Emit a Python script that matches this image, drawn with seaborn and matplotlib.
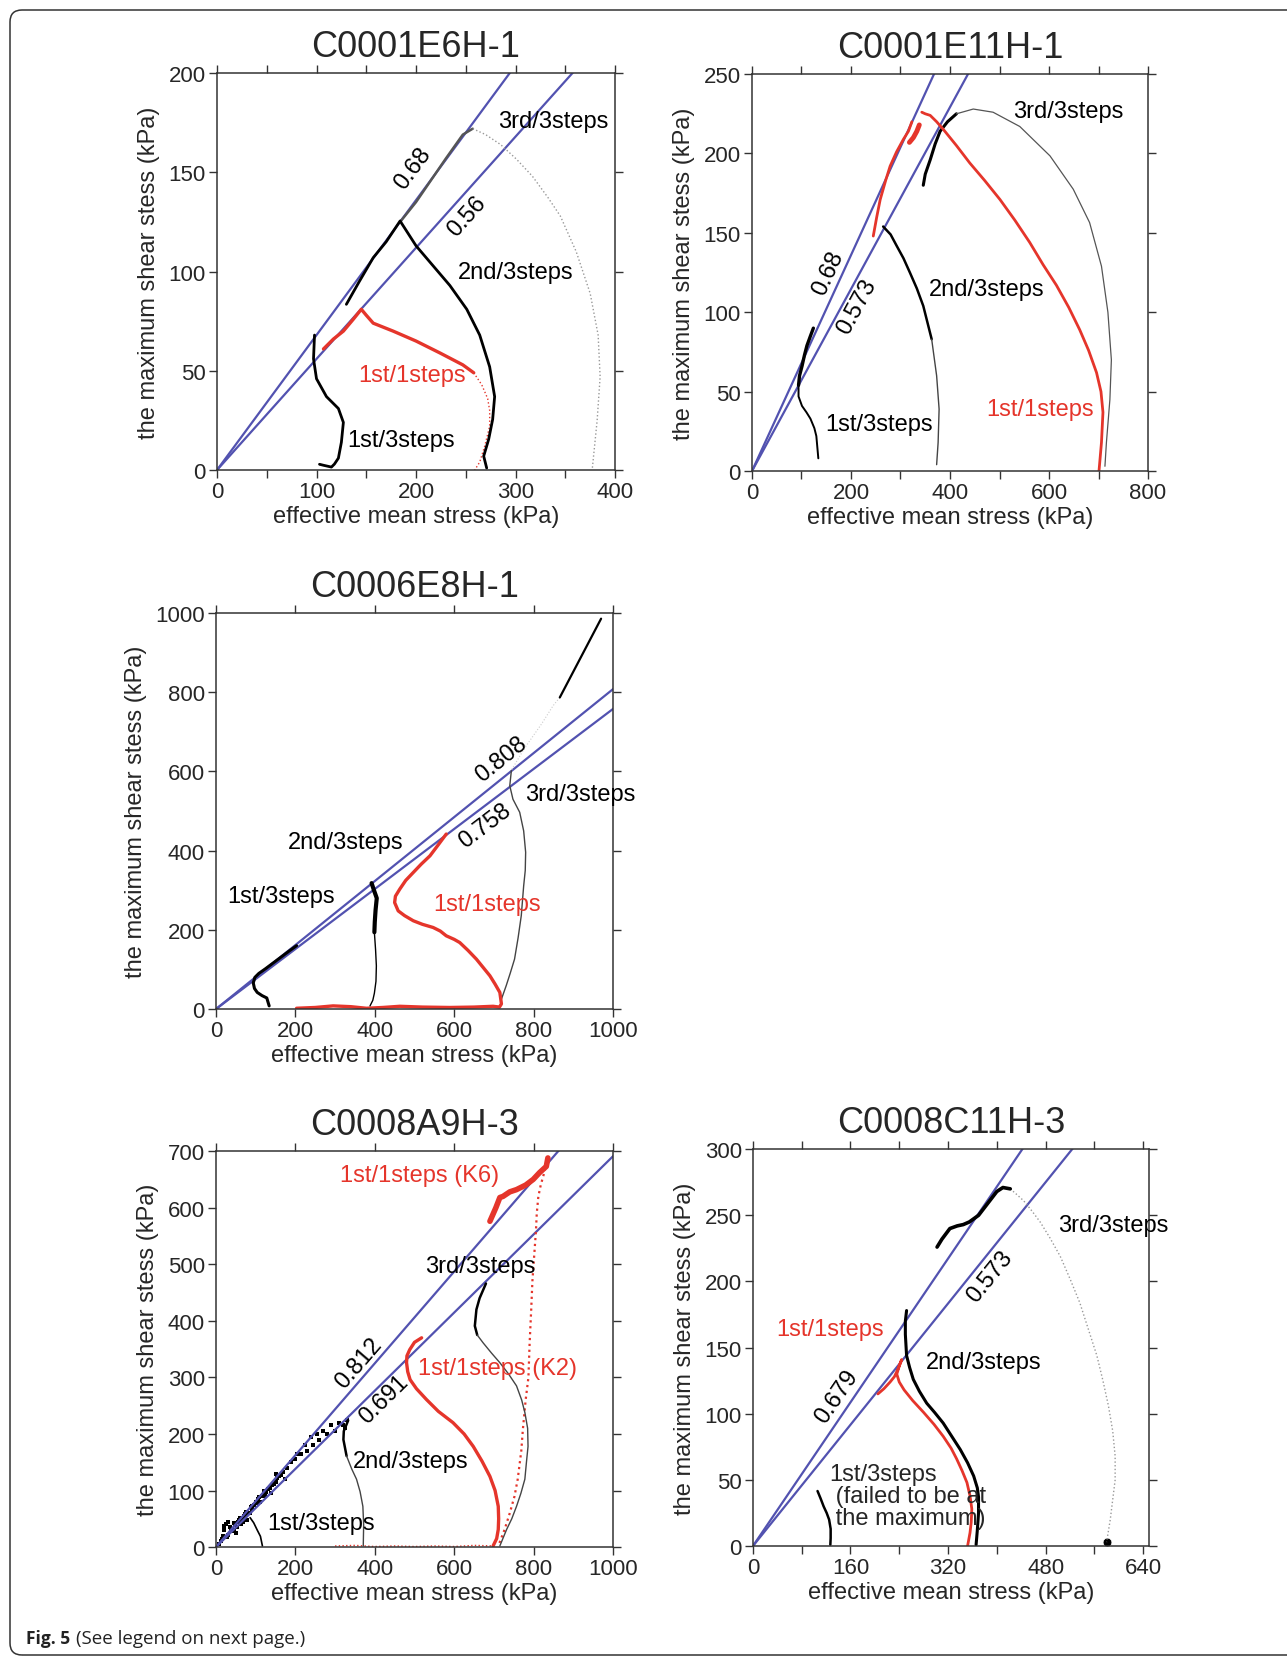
import matplotlib

matplotlib.use("Agg")
import matplotlib.patches as mpatches
import matplotlib.pyplot as plt
import seaborn as sns
from matplotlib.ticker import MultipleLocator

BLUE = "#5252b0"
RED = "#e5352b"

# ---------------- C0001E6H-1 ----------------
e6_slopes = [0.68, 0.56]
e6_1st3_x = [98, 97, 100, 110, 122, 127, 125, 122, 118, 115, 107, 103]
e6_1st3_y = [68, 56, 46, 37, 31, 24, 14, 6, 3, 1.5, 2.4, 2.9]
e6_2nd3_x = [130, 143, 157, 170, 184, 200, 217, 234, 251, 264, 274, 279, 277, 273, 268, 271]
e6_2nd3_y = [83.5, 95, 107, 115, 125.5, 113, 103, 93, 81, 68, 52, 37, 25.5, 15.5, 7, 1]
e6_3rd3_x = [184, 200, 215, 230, 247, 257, 270, 285, 301, 317, 333, 345, 361, 375, 383, 385, 382, 377]
e6_3rd3_y = [125, 135, 146, 157, 169, 172, 169, 164, 156.6, 148, 137, 128, 110, 89, 68, 47, 25, 0]
e6_1st1_x = [107, 117, 127, 137, 145, 150, 157, 177, 200, 224, 247, 258]
e6_1st1_y = [61, 66, 70, 76, 81, 78, 74, 70, 65, 59, 53, 49]
e6_1st1_tail_x = [258, 266, 272, 274, 274, 269, 264, 259]
e6_1st1_tail_y = [49, 43, 36, 30, 22, 12, 4, 0]

# ---------------- C0001E11H-1 ----------------
e11_slopes = [0.68, 0.573]
e11_1st3_x = [124, 118, 111, 106, 101, 96, 94, 94, 101, 110, 118, 126, 130, 134]
e11_1st3_y = [90, 85, 79, 73, 66, 60, 54, 47, 41, 37, 33, 27, 22, 8]
e11_2nd3_x = [265, 280, 292, 306, 319, 333, 346, 363, 373, 378, 376, 373]
e11_2nd3_y = [154, 149, 142, 134, 125, 115, 104, 83, 60, 39, 18, 4]
e11_3rd3_x = [346, 350, 360, 370, 380, 395, 413, 447, 487, 541, 602, 649, 682, 706, 719, 726, 723, 716, 713]
e11_3rd3_y = [180, 187, 196, 206, 214, 220, 225, 228, 226, 217, 198.5, 177.5, 156.5, 129, 100, 70, 45, 18, 3]
e11_1st1_rise_x = [245, 252, 259, 270, 279, 292, 306, 316, 323]
e11_1st1_rise_y = [148, 160, 171, 183, 192, 201, 209, 214, 220]
e11_1st1_blob_x = [318, 326, 333, 338]
e11_1st1_blob_y = [207, 210, 214, 218]
e11_1st1_x = [343, 350, 360, 373, 387, 413, 440, 470, 501, 531, 561, 588, 615, 640, 662, 680, 696, 705, 709, 706, 701]
e11_1st1_y = [226, 225, 224, 220, 215, 205, 194, 183, 171, 158, 144, 130, 117, 103, 89, 76, 62, 50, 37, 18, 0]

# ---------------- C0006E8H-1 ----------------
e8_slopes = [0.808, 0.758]
e8_1st3_x = [203, 185, 165, 145, 125, 108, 98, 94, 97, 104, 116, 128, 134]
e8_1st3_y = [160, 147, 132, 117, 102, 90, 80, 66, 52, 42, 34, 28, 8]
e8_2nd3_x = [392, 398, 405, 402, 400, 399]
e8_2nd3_y = [318, 300, 280, 250, 220, 194]
e8_2nd3_tail_x = [399, 402, 404, 403, 399, 395, 388]
e8_2nd3_tail_y = [194, 150, 109, 70, 40, 22, 8]
e8_3rd3_x = [744, 740, 748, 765, 775, 780, 779, 775, 769, 761, 752, 741, 731, 719]
e8_3rd3_y = [602, 564, 530, 497, 450, 396, 350, 311, 236, 180, 126, 90, 59, 25]
e8_3rd3_gap_x = [745, 778, 820, 849, 866]
e8_3rd3_gap_y = [605, 660, 720, 766, 787]
e8_3rd3_top_x = [866, 970]
e8_3rd3_top_y = [787, 986]
e8_1st1_x = [580, 560, 539, 517, 497, 478, 463, 452, 450, 459, 475, 497, 520, 547, 565, 580, 600,
             614, 635, 656, 673, 690, 703, 715, 719, 714, 698, 650, 589, 520, 463, 420, 379, 340,
             295, 250, 203]
e8_1st1_y = [442, 415, 387, 366, 345, 325, 303, 285, 269, 248, 236, 223, 214, 206, 197, 185, 176,
             168, 148, 126, 105, 84, 63, 42, 13, 5, 7, 5, 4, 5, 7, 4, 2, 6, 8, 4, 2]

# ---------------- C0008A9H-3 ----------------
a9_slopes = [0.812, 0.691]
a9_cloud_x = [8, 15, 20, 25, 30, 35, 40, 48, 55, 60, 70, 75, 85, 90, 100, 105, 115, 120, 130, 140,
              150, 160, 170, 180, 190, 200, 215, 230, 245, 260, 280, 300, 320, 330, 30, 20, 50, 110,
              150, 240, 12, 18, 28, 38, 45, 52, 58, 65, 72, 80, 88, 95, 102, 108, 118, 125, 135,
              145, 155, 165, 62, 78, 92, 124, 138, 175, 205, 225, 255, 270, 290, 310, 325, 45, 68]
a9_cloud_y = [5, 15, 30, 40, 22, 35, 28, 40, 45, 52, 55, 62, 60, 72, 78, 85, 90, 100, 102, 110,
              115, 125, 132, 140, 150, 155, 165, 170, 180, 190, 200, 205, 215, 225, 45, 38, 25, 80,
              130, 195, 10, 20, 18, 30, 42, 36, 48, 50, 58, 60, 70, 74, 80, 88, 92, 98, 105,
              112, 122, 128, 40, 48, 68, 90, 95, 120, 165, 180, 200, 205, 215, 220, 210, 30, 45]
a9_1st3_x = [86, 95, 104, 112, 117]
a9_1st3_y = [52, 43, 30, 19, 2]
a9_2nd3_x = [333, 322, 321, 329, 342, 354, 363, 370, 372, 371]
a9_2nd3_y = [224, 205, 190, 161, 138, 120, 98, 72, 40, 2]
a9_3rd3_x = [680, 664, 656, 652, 658, 673, 694, 715, 737, 757, 770, 778, 785, 786, 782, 778, 768,
             757, 745, 732, 715]
a9_3rd3_y = [466, 440, 420, 391, 375, 361, 343, 326, 306, 285, 260, 238, 210, 178, 150, 120, 95,
             72, 50, 31, 2]
a9_k2_x = [518, 500, 488, 481, 480, 483, 489, 505, 530, 560, 597, 625, 648, 670, 690, 703, 711,
           712, 711, 707, 698]
a9_k2_y = [370, 362, 349, 338, 326, 310, 296, 280, 261, 240, 220, 200, 178, 152, 125, 100, 72, 50,
           31, 15, 2]
a9_k6_x = [690, 705, 715, 723, 740, 757, 780, 799, 815, 832, 836]
a9_k6_y = [576, 600, 618, 620, 628, 632, 640, 650, 662, 673, 688]
a9_k6_tail_x = [832, 826, 818, 812, 808, 806, 803, 800, 797, 794, 790, 787, 780, 773, 769, 760,
                752, 740, 727, 711]
a9_k6_tail_y = [680, 660, 640, 620, 590, 560, 530, 500, 470, 420, 360, 300, 260, 208, 170, 120,
                90, 60, 31, 2]
a9_base_x = [300, 350, 400, 450, 500, 550, 600, 650, 700]
a9_base_y = [2, 3, 1, 2, 1, 2, 1, 3, 2]

# ---------------- C0008C11H-3 ----------------
c11_slopes = [0.679, 0.573]
c11_1st3_x = [106, 111, 116, 121, 125, 127.5, 127.5, 127]
c11_1st3_y = [41.6, 36, 30, 25, 20, 13, 6, 1]
c11_1st1_x = [205, 215, 225, 232, 238, 244, 240, 236, 240, 248, 262, 280, 297, 312, 325, 334, 343,
              351, 356, 359, 358, 356, 352]
c11_1st1_y = [115, 119, 124, 128, 134, 141, 136, 130, 124, 118, 110, 101, 92, 83, 74, 66, 57, 48,
              38, 28, 18, 10, 0]
c11_2nd3_x = [252, 250, 250, 252, 257, 263, 273, 285, 298, 312, 326, 340, 352, 362, 368, 370, 370,
              368, 366]
c11_2nd3_y = [178, 170, 160, 144, 135, 126, 117, 108, 101, 93, 83, 73, 63, 53, 44, 37, 25, 12, 1]
c11_3rd3_x = [302, 310, 323, 335, 345, 355, 370, 380, 390, 400, 410, 422]
c11_3rd3_y = [226, 232, 240, 242, 243, 245, 250, 256, 262, 268, 271, 270]
c11_3rd3_tail_x = [422, 432, 444, 458, 471, 487, 504, 520, 536, 550, 564, 574, 583, 590, 594, 594,
                   590, 586, 580]
c11_3rd3_tail_y = [270, 266, 261, 253, 245, 233, 219, 202, 184, 164, 144, 125, 106, 87, 68, 50,
                   35, 20, 3]


def trace(ax, x, y, color="black", lw=1.2, ls="-"):
    sns.lineplot(x=x, y=y, ax=ax, sort=False, estimator=None, color=color,
                 linewidth=lw, linestyle=ls, legend=False)


def ratio_lines(ax, slopes, xmax):
    for s in slopes:
        trace(ax, [0, xmax * 1.5], [0, s * xmax * 1.5], color=BLUE, lw=1.6)


def label(ax, x, y, text, color="black", rot=0, ha="left"):
    ax.text(x, y, text, color=color, fontsize=17, rotation=rot, ha=ha, va="center",
            rotation_mode="anchor")


def setup(ax, title, xlim, ylim, xmaj, ymaj, xmin=None):
    ax.set_xlim(*xlim)
    ax.set_ylim(*ylim)
    ax.xaxis.set_major_locator(MultipleLocator(xmaj))
    ax.yaxis.set_major_locator(MultipleLocator(ymaj))
    if xmin:
        ax.xaxis.set_minor_locator(MultipleLocator(xmin))
    ax.tick_params(which="both", direction="out", length=6, width=1, top=True, right=True,
                   labelsize=16, pad=2, color="#333333")
    for sp in ax.spines.values():
        sp.set_linewidth(1.1)
        sp.set_color("#333333")
    ax.set_title(title, fontsize=26, pad=12)
    ax.set_xlabel("effective mean stress (kPa)", fontsize=17, labelpad=2)
    ax.set_ylabel("the maximum shear stess (kPa)", fontsize=17, labelpad=6)


sns.set_theme(style="ticks")
plt.rcParams["font.family"] = ["Liberation Sans", "DejaVu Sans"]

fig = plt.figure(figsize=(12.87, 16.58), dpi=100)

# panel 1
ax1 = fig.add_axes([0.1686, 0.7159, 0.3093, 0.2394])
ratio_lines(ax1, e6_slopes, 400)
trace(ax1, e6_3rd3_x[:6], e6_3rd3_y[:6], color="#555555", lw=1.8)
trace(ax1, e6_3rd3_x[5:], e6_3rd3_y[5:], color="#999999", lw=1.0, ls=":")
trace(ax1, e6_1st1_x, e6_1st1_y, color=RED, lw=2.4)
trace(ax1, e6_1st1_tail_x, e6_1st1_tail_y, color=RED, lw=1.0, ls=":")
trace(ax1, e6_2nd3_x, e6_2nd3_y, lw=2.0)
trace(ax1, e6_1st3_x, e6_1st3_y, lw=2.0)
label(ax1, 282, 176, "3rd/3steps")
label(ax1, 242, 100, "2nd/3steps")
label(ax1, 142, 48, "1st/1steps", color=RED)
label(ax1, 131, 15, "1st/3steps")
label(ax1, 197, 152, "0.68", rot=53.6, ha="center")
label(ax1, 251, 128, "0.56", rot=48.2, ha="center")
setup(ax1, "C0001E6H-1", (0, 400), (0, 200), 100, 50, 50)

# panel 2
ax2 = fig.add_axes([0.5843, 0.7153, 0.3077, 0.2394])
ratio_lines(ax2, e11_slopes, 800)
trace(ax2, e11_3rd3_x[:7], e11_3rd3_y[:7], lw=2.2)
trace(ax2, e11_3rd3_x[6:], e11_3rd3_y[6:], color="#555555", lw=0.9)
trace(ax2, e11_2nd3_x[:8], e11_2nd3_y[:8], lw=1.8)
trace(ax2, e11_2nd3_x[7:], e11_2nd3_y[7:], color="#444444", lw=1.0)
trace(ax2, e11_1st3_x[:7], e11_1st3_y[:7], lw=2.4)
trace(ax2, e11_1st3_x[6:], e11_1st3_y[6:], lw=1.4)
trace(ax2, e11_1st1_rise_x, e11_1st1_rise_y, color=RED, lw=2.0)
trace(ax2, e11_1st1_blob_x, e11_1st1_blob_y, color=RED, lw=3.5)
trace(ax2, e11_1st1_x, e11_1st1_y, color=RED, lw=2.0)
label(ax2, 528, 227, "3rd/3steps")
label(ax2, 358, 114.5, "2nd/3steps")
label(ax2, 147, 29.4, "1st/3steps")
label(ax2, 473, 39, "1st/1steps", color=RED)
label(ax2, 155, 125, "0.68", rot=65.4, ha="center")
label(ax2, 212, 104, "0.573", rot=61.5, ha="center")
setup(ax2, "C0001E11H-1", (0, 800), (0, 250), 200, 50, 100)

# panel 3
ax3 = fig.add_axes([0.1678, 0.3908, 0.3085, 0.2388])
ratio_lines(ax3, e8_slopes, 1000)
trace(ax3, e8_3rd3_gap_x, e8_3rd3_gap_y, color="#cccccc", lw=0.8, ls=":")
trace(ax3, e8_3rd3_top_x, e8_3rd3_top_y, lw=1.6)
trace(ax3, e8_3rd3_x, e8_3rd3_y, color="#444444", lw=1.0)
trace(ax3, e8_1st1_x, e8_1st1_y, color=RED, lw=2.4)
trace(ax3, e8_2nd3_x, e8_2nd3_y, lw=3.0)
trace(ax3, e8_2nd3_tail_x, e8_2nd3_tail_y, lw=1.0)
trace(ax3, e8_1st3_x, e8_1st3_y, lw=2.2)
label(ax3, 778, 543, "3rd/3steps")
label(ax3, 180, 421, "2nd/3steps")
label(ax3, 29, 286, "1st/3steps")
label(ax3, 547, 265, "1st/1steps", color=RED)
label(ax3, 719, 631, "0.808", rot=38.9, ha="center")
label(ax3, 677, 463, "0.758", rot=37.2, ha="center")
setup(ax3, "C0006E8H-1", (0, 1000), (0, 1000), 200, 200)

# panel 4
ax4 = fig.add_axes([0.1678, 0.0663, 0.3085, 0.2388])
sns.scatterplot(x=a9_cloud_x, y=a9_cloud_y, ax=ax4, color="black", s=10, linewidth=0,
                marker="s", legend=False)
ratio_lines(ax4, a9_slopes, 1000)
trace(ax4, a9_base_x, a9_base_y, color=RED, lw=1.0, ls=":")
trace(ax4, a9_k6_tail_x, a9_k6_tail_y, color=RED, lw=1.6, ls=":")
trace(ax4, a9_k6_x, a9_k6_y, color=RED, lw=4.0)
trace(ax4, a9_3rd3_x[:5], a9_3rd3_y[:5], lw=1.8)
trace(ax4, a9_3rd3_x[4:], a9_3rd3_y[4:], color="#444444", lw=1.0)
trace(ax4, a9_k2_x, a9_k2_y, color=RED, lw=2.4)
trace(ax4, a9_2nd3_x[:4], a9_2nd3_y[:4], lw=1.8)
trace(ax4, a9_2nd3_x[3:], a9_2nd3_y[3:], color="#444444", lw=1.0)
trace(ax4, a9_1st3_x, a9_1st3_y, lw=1.2)
label(ax4, 312, 657, "1st/1steps (K6)", color=RED)
label(ax4, 526, 497, "3rd/3steps")
label(ax4, 509, 317, "1st/1steps (K2)", color=RED)
label(ax4, 346, 152, "2nd/3steps")
label(ax4, 130, 43, "1st/3steps")
label(ax4, 361, 326, "0.812", rot=49.2, ha="center")
label(ax4, 424, 261, "0.691", rot=44.6, ha="center")
setup(ax4, "C0008A9H-3", (0, 1000), (0, 700), 200, 100)

# panel 5
ax5 = fig.add_axes([0.585, 0.0669, 0.3080, 0.2394])
ratio_lines(ax5, c11_slopes, 650)
trace(ax5, c11_3rd3_tail_x, c11_3rd3_tail_y, color="#999999", lw=1.0, ls=":")
trace(ax5, c11_3rd3_x, c11_3rd3_y, lw=2.6)
sns.scatterplot(x=[c11_3rd3_tail_x[-1]], y=[c11_3rd3_tail_y[-1]], ax=ax5, color="black",
                s=40, legend=False)
trace(ax5, c11_2nd3_x, c11_2nd3_y, lw=2.2)
trace(ax5, c11_1st1_x, c11_1st1_y, color=RED, lw=2.0)
trace(ax5, c11_1st3_x, c11_1st3_y, lw=1.8)
label(ax5, 501, 243, "3rd/3steps")
label(ax5, 284, 139.5, "2nd/3steps")
label(ax5, 39, 164, "1st/1steps", color=RED)
label(ax5, 389, 204, "0.573", rot=51.2, ha="center")
label(ax5, 138, 113, "0.679", rot=55.8, ha="center")
ax5.text(125, 63, "1st/3steps\n (failed to be at\n the maximum)", fontsize=17, ha="left",
         va="top", linespacing=1.0)
setup(ax5, "C0008C11H-3", (0, 650), (0, 300), 160, 50, 80)

# frame and caption
frame = mpatches.FancyBboxPatch((0.10, 0.02), 14.0, 16.45,
                                boxstyle="round,pad=0,rounding_size=0.12",
                                transform=fig.dpi_scale_trans, fill=False,
                                edgecolor="#333333", linewidth=1.1)
fig.patches.append(frame)
fig.text(26 / 1287, 1 - 1639 / 1658, "Fig. 5", fontsize=12.5, fontweight="bold",
         family=["Open Sans", "DejaVu Sans"], va="center", ha="left", color="#222222")
fig.text(76 / 1287, 1 - 1639 / 1658, "(See legend on next page.)", fontsize=13.5,
         family=["Open Sans", "DejaVu Sans"], va="center", ha="left", color="#222222")

fig.savefig("out.png", dpi=100)
